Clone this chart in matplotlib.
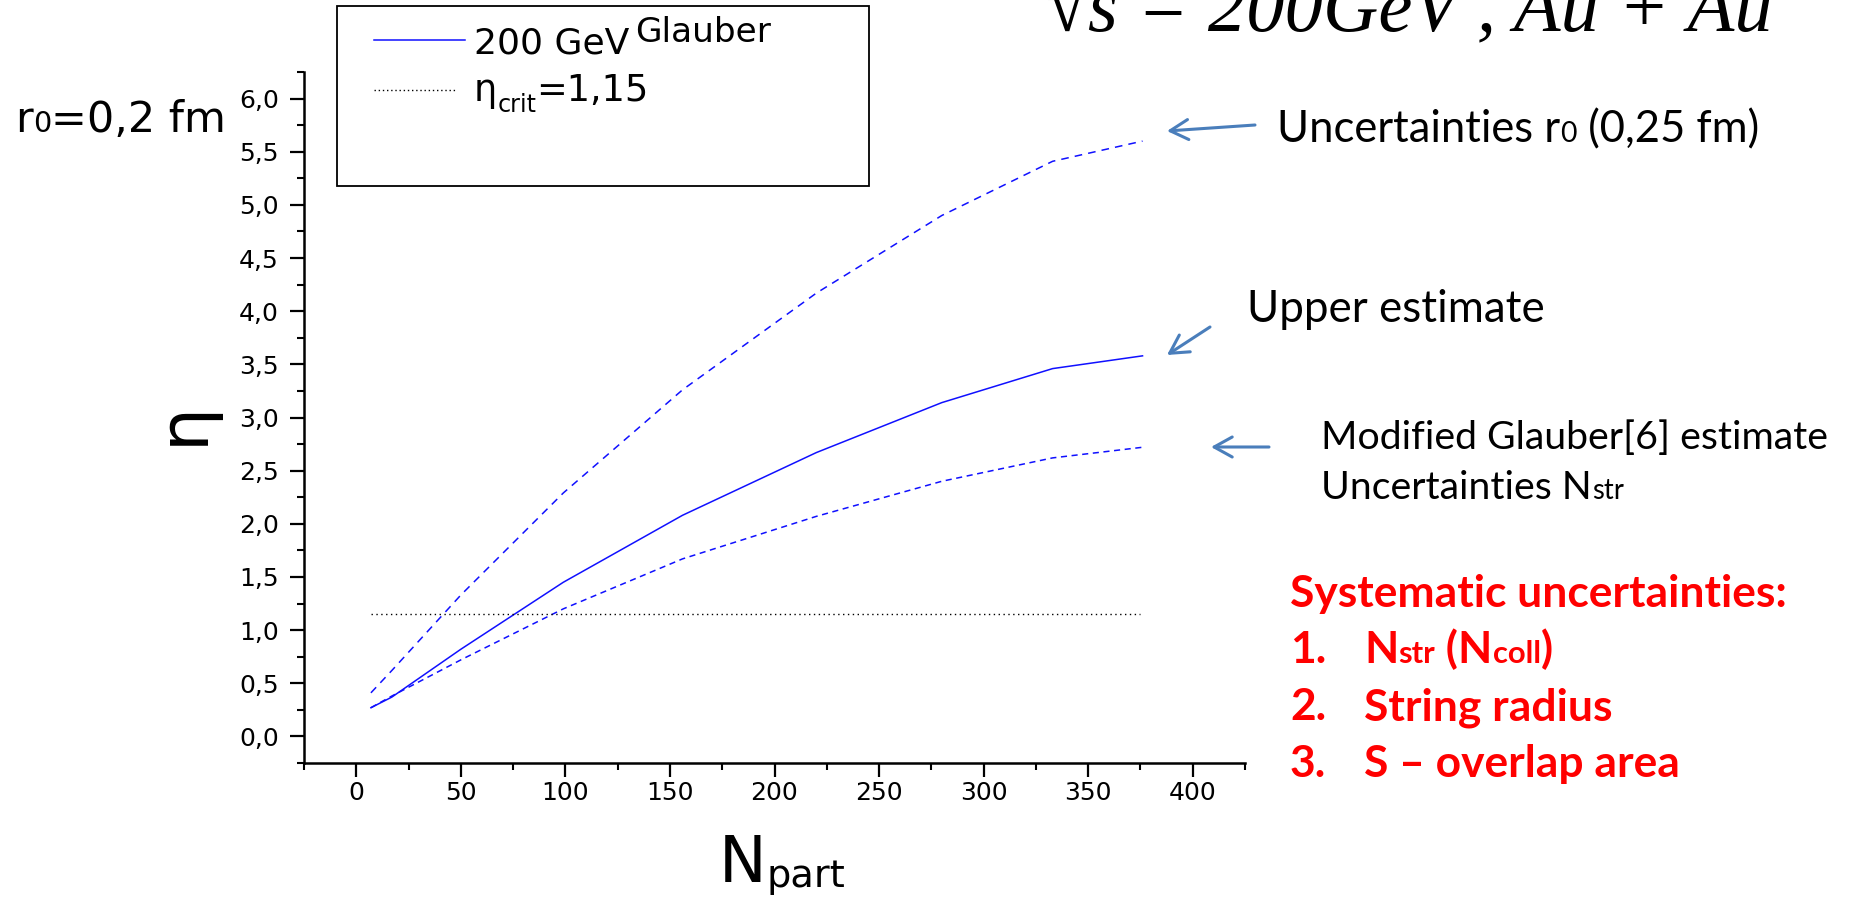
import matplotlib
matplotlib.use('Agg')
import matplotlib.pyplot as plt
from matplotlib.lines import Line2D
from matplotlib.patches import Rectangle, FancyArrowPatch
from matplotlib.ticker import MultipleLocator, FixedLocator, FixedFormatter

W, H, DPI = 1854, 901, 100

# curves
npart = [7, 17, 50, 99, 156, 220, 280, 333, 376]
eta_upper = [0.27, 0.37, 0.82, 1.45, 2.08, 2.67, 3.14, 3.46, 3.58]
eta_r025 = [0.41, 0.62, 1.33, 2.29, 3.26, 4.17, 4.90, 5.41, 5.60]
eta_modified = [0.27, 0.38, 0.72, 1.20, 1.67, 2.07, 2.40, 2.62, 2.72]
eta_crit = 1.15
crit_span = [7, 375]

y_ticks = [0.0, 0.5, 1.0, 1.5, 2.0, 2.5, 3.0, 3.5, 4.0, 4.5, 5.0, 5.5, 6.0]
y_labels = ['0,0', '0,5', '1,0', '1,5', '2,0', '2,5', '3,0', '3,5', '4,0', '4,5', '5,0', '5,5', '6,0']
x_ticks = [0, 50, 100, 150, 200, 250, 300, 350, 400]
x_labels = ['0', '50', '100', '150', '200', '250', '300', '350', '400']

BLUE = '#1010ff'
ARROW = '#4a7ebb'
SANS = ['DejaVu Sans']
CAL = ['Lato', 'DejaVu Sans']

plt.rcParams['font.family'] = SANS

fig = plt.figure(figsize=(W / DPI, H / DPI), dpi=DPI)
renderer = fig.canvas.get_renderer()


def fx(x):
    return x / W


def fy(y):
    return 1 - y / H


def runs(x, base, parts, size, **kw):
    # parts: (text, relative size, drop in em, gap before in em)
    arts = []
    cx = x
    em = size * DPI / 72
    for s, k, drop, gap in parts:
        cx += gap * em
        t = fig.text(fx(cx), fy(base + drop * em), s, fontsize=size * k,
                     ha='left', va='baseline', **kw)
        cx = t.get_window_extent(renderer).x1
        arts.append(t)
    return arts, cx - x


def fitted(x, base, parts, width, **kw):
    arts, w = runs(x, base, parts, 20, **kw)
    for a in arts:
        a.remove()
    size = 20 * width / w
    runs(x, base, parts, size, **kw)
    return size


def arrow(x1, y1, x2, y2):
    fig.add_artist(FancyArrowPatch((fx(x1), fy(y1)), (fx(x2), fy(y2)),
                                   transform=fig.transFigure,
                                   arrowstyle='->,head_length=0.65,head_width=0.36',
                                   mutation_scale=20, lw=2.2, color=ARROW,
                                   shrinkA=0, shrinkB=0))


# axes
ax = fig.add_axes([fx(304), fy(763), (1245 - 304) / W, (763 - 72) / H])
ax.plot(npart, eta_upper, color=BLUE, lw=1.1)
ax.plot(npart, eta_r025, color=BLUE, lw=1.1, ls=(0, (5, 4)))
ax.plot(npart, eta_modified, color=BLUE, lw=1.1, ls=(0, (4, 3)))
ax.plot(crit_span, [eta_crit, eta_crit], color='black', lw=1.0, ls=(0, (1, 2.5)))

ax.set_xlim(-25, 425)
ax.set_ylim(-0.25, 6.25)
ax.xaxis.set_major_locator(FixedLocator(x_ticks))
ax.xaxis.set_major_formatter(FixedFormatter(x_labels))
ax.xaxis.set_minor_locator(MultipleLocator(25))
ax.yaxis.set_major_locator(FixedLocator(y_ticks))
ax.yaxis.set_major_formatter(FixedFormatter(y_labels))
ax.yaxis.set_minor_locator(MultipleLocator(0.25))
for side in ['top', 'right']:
    ax.spines[side].set_visible(False)
for side in ['left', 'bottom']:
    ax.spines[side].set_linewidth(1.8)
ax.tick_params(which='major', direction='out', length=10, width=1.6, labelsize=18)
ax.tick_params(which='minor', direction='out', length=5, width=1.5)
ax.tick_params(axis='y', which='major', pad=8)
ax.tick_params(axis='x', which='major', pad=3)

# axis titles
fig.text(fx(184), fy(423), 'η', rotation=90, ha='center', va='center', fontsize=50)
runs(719, 882, [('N', 1, 0, 0), ('part', 0.6, 0.08, 0.0)], 46)

# r0 label
runs(15, 132, [('r', 1, 0, 0), ('0', 0.67, 0, 0), ('=0,2 fm', 1, 0, 0)], 31)

# legend box
fig.add_artist(Rectangle((fx(337), fy(186)), (869 - 337) / W, (186 - 6) / H,
                         transform=fig.transFigure, fill=False, ec='black', lw=1.3))
fig.add_artist(Line2D([fx(374), fx(465)], [fy(40), fy(40)], color=BLUE, lw=1.1,
                      transform=fig.transFigure))
fig.add_artist(Line2D([fx(374), fx(457)], [fy(90), fy(90)], color='black', lw=1.0,
                      ls=(0, (1, 2)), transform=fig.transFigure))
runs(474, 54, [('200 GeV', 1, 0, 0), ('Glauber', 0.95, -0.33, 0.15)], 26)
runs(474, 101, [('η', 1, 0, 0), ('crit', 0.65, 0.3, 0), ('=1,15', 1, 0, 0)], 26.5)

# title
fitted(1046, 30, [('√s = 200GeV , Au + Au', 1, 0, 0)], 727,
       family=['Liberation Serif', 'DejaVu Serif'], style='italic')

# annotations on the right
fitted(1277, 142, [('Uncertainties r', 1, 0, 0), ('0', 0.65, 0, 0), (' (0,25 fm)', 1, 0, 0)],
       483, family=CAL)
arrow(1255, 125, 1167, 131)

fitted(1247, 322, [('Upper estimate', 1, 0, 0)], 298, family=CAL)
arrow(1210, 327, 1167, 355)

s = fitted(1321, 449, [('Modified Glauber[6] estimate', 1, 0, 0)], 509, family=CAL)
runs(1321, 499, [('Uncertainties N', 1, 0, 0), ('str', 0.7, 0, 0)], s, family=CAL)
arrow(1269, 447, 1211, 447)

RED = '#ff0000'
s = fitted(1290, 607, [('Systematic uncertainties:', 1, 0, 0)], 497,
           family=CAL, weight='bold', color=RED)
items = [
    ('1.', [('N', 1, 0, 0), ('str', 0.7, 0, 0), (' (N', 1, 0, 0), ('coll', 0.7, 0, 0), (')', 1, 0, 0)]),
    ('2.', [('String radius', 1, 0, 0)]),
    ('3.', [('S – overlap area', 1, 0, 0)]),
]
for i, (num, parts) in enumerate(items):
    base = 663 + i * 57
    runs(1290, base, [(num, 1, 0, 0)], s, family=CAL, weight='bold', color=RED)
    runs(1364, base, parts, s, family=CAL, weight='bold', color=RED)

fig.savefig('out.png', dpi=DPI)
